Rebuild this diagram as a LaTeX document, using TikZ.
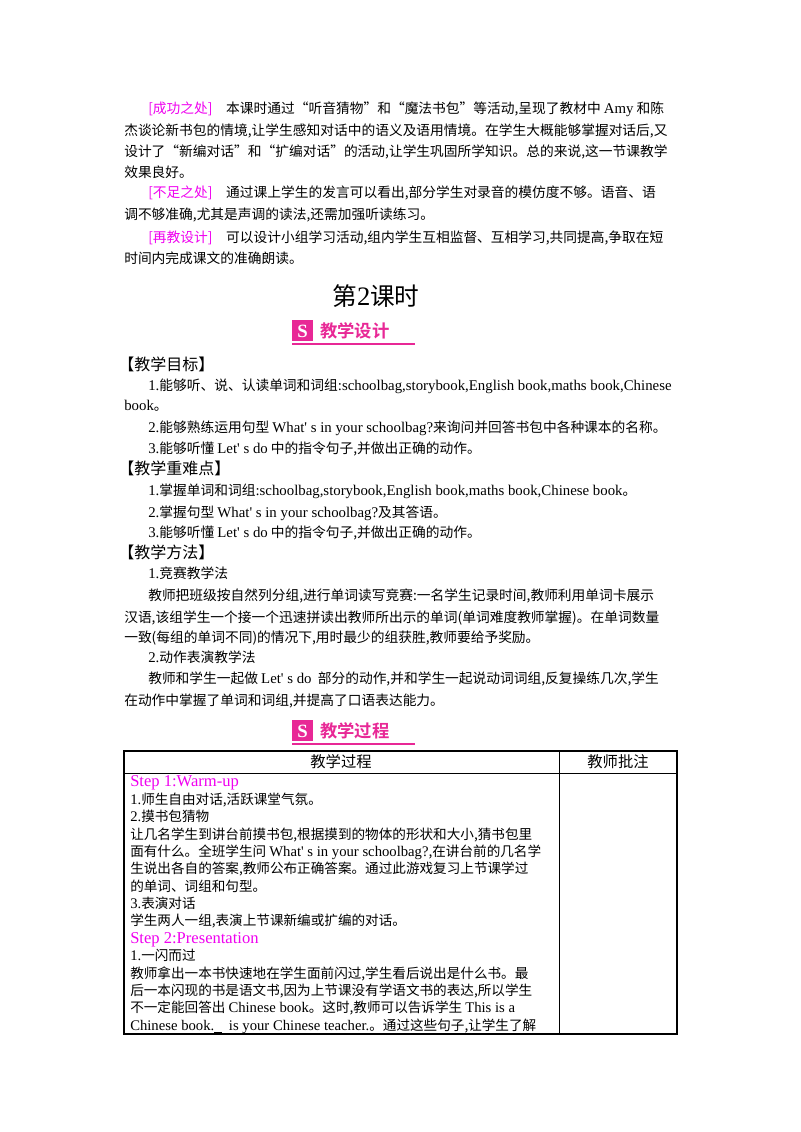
\documentclass[tikz,border=0pt]{standalone}
\usepackage{fontspec}
\setmainfont{Noto Sans CJK SC}[BoldFont={* Bold}]
\newfontfamily\enf{Liberation Serif}[Scale=1.08]
\newcommand\e[1]{{\enf #1}}
\definecolor{pk}{RGB}{232,40,150}
\definecolor{mg}{RGB}{240,0,240}
\tikzset{
 t/.style={anchor=base west,inner sep=0,font=\fontsize{10.3}{12}\selectfont},
 tt/.style={anchor=base west,inner sep=0,font=\fontsize{10.2}{11}\selectfont},
 hd/.style={anchor=base west,inner sep=0,font=\fontsize{12}{13}\selectfont},
}
\newcommand\banner[4]{% name, x, y, text
 \fill[pk] (#2,#3-11) rectangle (#2+21,#3+10);
 \node[text=white,font=\bfseries\fontsize{13}{13}\selectfont,inner sep=0] (#1i) at (#2+10.5,#3) {\e{S}};
 \node[anchor=west,text=pk,inner sep=0,font=\bfseries\fontsize{13}{14}\selectfont] (#1) at (#2+28,#3) {#4};
 \draw[pk,line width=1.2pt] (#2,#3+13) -- (#2+123,#3+13);
}
\begin{document}
\begin{tikzpicture}[x=0.75pt,y=-0.75pt]
\useasboundingbox[fill=white] (0,0) rectangle (800,1132);
% top paragraphs
\node[t] (a1) at (148,113) {\textcolor{mg}{[成功之处]}\quad 本课时通过“听音猜物”和“魔法书包”等活动,呈现了教材中 \e{Amy} 和陈};
\node[t] (a2) at (124,135) {杰谈论新书包的情境,让学生感知对话中的语义及语用情境。在学生大概能够掌握对话后,又};
\node[t] (a3) at (124,156) {设计了“新编对话”和“扩编对话”的活动,让学生巩固所学知识。总的来说,这一节课教学};
\node[t] (a4) at (124,177) {效果良好。};
\node[t] (b1) at (148,197) {\textcolor{mg}{[不足之处]}\quad 通过课上学生的发言可以看出,部分学生对录音的模仿度不够。语音、语};
\node[t] (b2) at (124,219) {调不够准确,尤其是声调的读法,还需加强听读练习。};
\node[t] (c1) at (148,242) {\textcolor{mg}{[再教设计]}\quad 可以设计小组学习活动,组内学生互相监督、互相学习,共同提高,争取在短};
\node[t] (c2) at (124,263) {时间内完成课文的准确朗读。};
% title
\node[anchor=base,inner sep=0,font=\fontsize{18.5}{20}\selectfont] (title) at (376,305) {第\e{2}课时};
\banner{ban1}{292}{331}{教学设计}
% goals
\node[hd] (g0) at (118,370) {【教学目标】};
\node[t] (g1) at (148,390) {\e{1.}能够听、说、认读单词和词组\e{:schoolbag,storybook,English book,maths book,Chinese}};
\node[t] (g1b) at (124,410) {\e{book}。};
\node[t] (g2) at (148,432) {\e{2.}能够熟练运用句型 \e{What' s in your schoolbag?}来询问并回答书包中各种课本的名称。};
\node[t] (g3) at (148,453) {\e{3.}能够听懂 \e{Let' s do} 中的指令句子,并做出正确的动作。};
\node[hd] (h0) at (118,474) {【教学重难点】};
\node[t] (h1) at (148,495) {\e{1.}掌握单词和词组\e{:schoolbag,storybook,English book,maths book,Chinese book}。};
\node[t] (h2) at (148,517) {\e{2.}掌握句型 \e{What' s in your schoolbag?}及其答语。};
\node[t] (h3) at (148,537) {\e{3.}能够听懂 \e{Let' s do} 中的指令句子,并做出正确的动作。};
\node[hd] (m0) at (118,558) {【教学方法】};
\node[t] (m1) at (148,578) {\e{1.}竞赛教学法};
\node[t] (m2) at (148,600) {教师把班级按自然列分组,进行单词读写竞赛:一名学生记录时间,教师利用单词卡展示};
\node[t] (m3) at (124,622) {汉语,该组学生一个接一个迅速拼读出教师所出示的单词(单词难度教师掌握)。在单词数量};
\node[t] (m4) at (124,642) {一致(每组的单词不同)的情况下,用时最少的组获胜,教师要给予奖励。};
\node[t] (m5) at (148,662) {\e{2.}动作表演教学法};
\node[t] (m6) at (148,683) {教师和学生一起做 \e{Let' s do}\ \ 部分的动作,并和学生一起说动词词组,反复操练几次,学生};
\node[t] (m7) at (124,705) {在动作中掌握了单词和词组,并提高了口语表达能力。};
\banner{ban2}{292}{731}{教学过程}
% table
\draw[line width=0.8pt] (124,751) rectangle (677,1034);
\draw[line width=0.6pt] (124,773) -- (677,773);
\draw[line width=0.6pt] (559,751) -- (559,1034);
\node[font=\fontsize{11.5}{12}\selectfont,inner sep=0] (th1) at (341,762) {教学过程};
\node[font=\fontsize{11.5}{12}\selectfont,inner sep=0] (th2) at (618,762) {教师批注};
\node[tt,text=mg,font=\fontsize{11.5}{12}\selectfont] (s1) at (130,786) {\e{Step 1:Warm-up}};
\node[tt] (r1) at (130,804) {\e{1.}师生自由对话,活跃课堂气氛。};
\node[tt] (r2) at (130,821) {\e{2.}摸书包猜物};
\node[tt] (r3) at (130,839) {让几名学生到讲台前摸书包,根据摸到的物体的形状和大小,猜书包里};
\node[tt] (r4) at (130,856) {面有什么。全班学生问 \e{What' s in your schoolbag?},在讲台前的几名学};
\node[tt] (r5) at (130,873) {生说出各自的答案,教师公布正确答案。通过此游戏复习上节课学过};
\node[tt] (r6) at (130,891) {的单词、词组和句型。};
\node[tt] (r7) at (130,908) {\e{3.}表演对话};
\node[tt] (r8) at (130,925) {学生两人一组,表演上节课新编或扩编的对话。};
\node[tt,text=mg,font=\fontsize{11.5}{12}\selectfont] (s2) at (130,943) {\e{Step 2:Presentation}};
\node[tt] (r9) at (130,960) {\e{1.}一闪而过};
\node[tt] (r10) at (130,978) {教师拿出一本书快速地在学生面前闪过,学生看后说出是什么书。最};
\node[tt] (r11) at (130,995) {后一本闪现的书是语文书,因为上节课没有学语文书的表达,所以学生};
\node[tt] (r12) at (130,1012) {不一定能回答出 \e{Chinese book}。这时,教师可以告诉学生 \e{This is a}};
\node[tt] (r13) at (130,1030) {\e{Chinese book.\underline{\ \ }\ \ is your Chinese teacher.}。通过这些句子,让学生了解};
\end{tikzpicture}
\end{document}
